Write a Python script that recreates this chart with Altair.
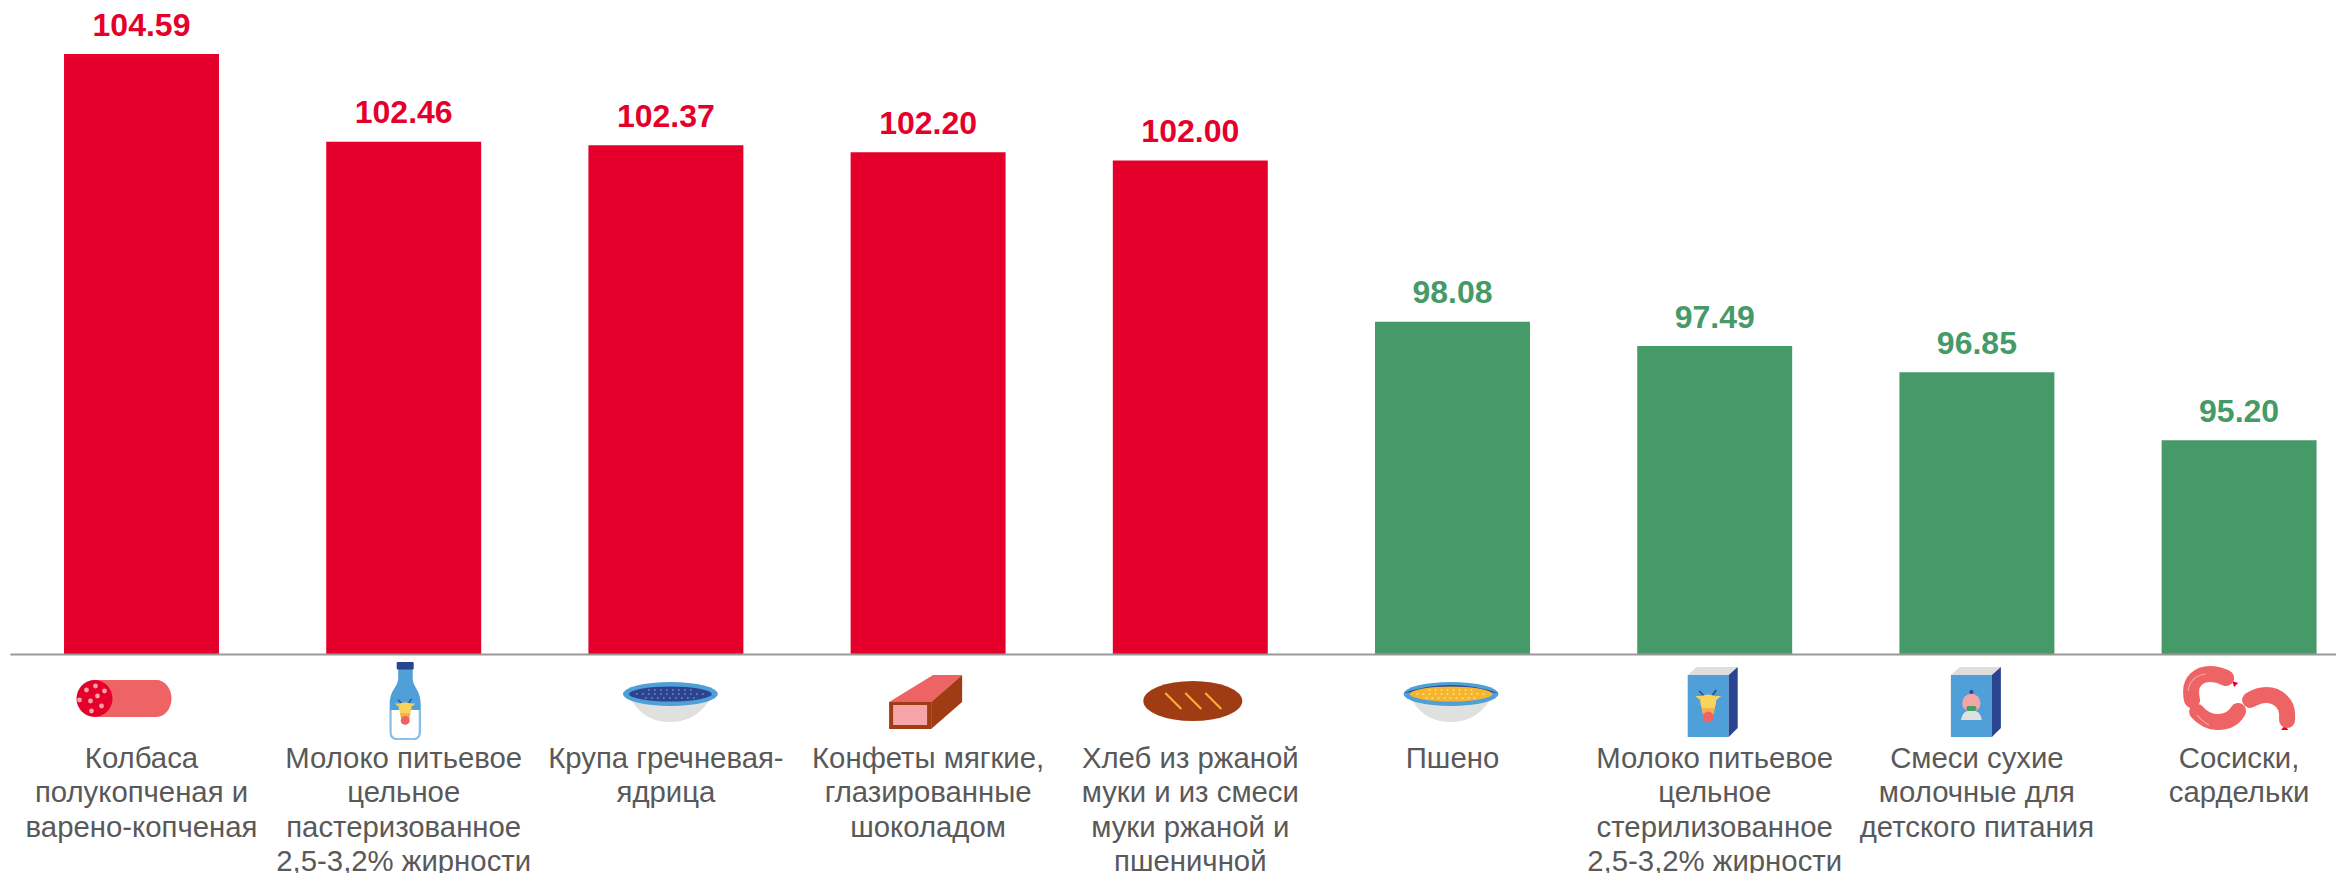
import base64
import altair as alt
import pandas as pd

categories = [
    "Колбаса|полукопченая и|варено-копченая",
    "Молоко питьевое|цельное|пастеризованное|2,5-3,2% жирности",
    "Крупа гречневая-|ядрица",
    "Конфеты мягкие,|глазированные|шоколадом",
    "Хлеб из ржаной|муки и из смеси|муки ржаной и|пшеничной",
    "Пшено",
    "Молоко питьевое|цельное|стерилизованное|2,5-3,2% жирности",
    "Смеси сухие|молочные для|детского питания",
    "Сосиски,|сардельки",
]
values = [104.59, 102.46, 102.37, 102.20, 102.00, 98.08, 97.49, 96.85, 95.20]
groups = ["up"] * 5 + ["down"] * 4

RED = "#E4002B"
GREEN = "#469A68"
PINK = "#EE6363"
BLUE = "#4F9FD9"
NAVY = "#2A4490"
BROWN = "#A03C14"
YEL = "#F5B52E"
GRAY = "#E0E0DE"

GOAT = (f'<path d="M-3,-12 L-9,-18 M3,-12 L8,-19" stroke="{NAVY}" stroke-width="1.6" fill="none"/>'
        f'<path d="M-7,-13 H-13 L-8,-9 Z M7,-13 H13 L8,-9 Z" fill="#F8D45C"/>'
        f'<path d="M-7,-13 Q0,-16 7,-13 Q9,-8 7,-3 L5,6 H-5 L-7,-3 Q-9,-8 -7,-13 Z" fill="#F8D45C"/>'
        f'<path d="M-6.5,-1 H6.5 L5,6 H-5 Z" fill="#F5B04A"/>'
        f'<ellipse cx="0" cy="8" rx="5.6" ry="5.4" fill="{PINK}"/>')
BABY = (f'<circle cx="0" cy="-17" r="2" fill="{NAVY}"/>'
        f'<path d="M0,-16 V-13" stroke="{NAVY}" stroke-width="1"/>'
        f'<circle cx="0" cy="-6" r="9.2" fill="#F4A6A6"/>'
        f'<path d="M-10.5,11 Q-9,3 -4,2 H4 Q9,3 10.5,11 Z" fill="{GRAY}"/>'
        f'<rect x="-5" y="-3" width="10" height="5" rx="2" fill="#3F9F5F"/>')


def bowl(fill, dots, rim_top):
    d = "".join(
        f'<circle cx="{x}" cy="{y}" r="1" fill="{dots}"/>'
        for y, xs in [(9, range(26, 72, 6)), (13, range(14, 84, 6)), (17, range(23, 75, 6))]
        for x in xs
    )
    return (f'<path d="M9,20 Q22,41 47,41 Q72,41 86,20 Z" fill="{GRAY}"/>'
            f'<ellipse cx="47.5" cy="13" rx="47.5" ry="12" fill="{BLUE}"/>'
            f'<path d="M0.5,12 Q47,-4 94.5,12 Q47,6 0.5,12 Z" fill="{rim_top}"/>'
            f'<ellipse cx="47.5" cy="13" rx="41.5" ry="7.5" fill="{fill}"/>{d}')


def box(inner):
    return (f'<rect x="0" y="8" width="41" height="62" fill="{BLUE}"/>'
            f'<path d="M0,8 L9,0 H50 L41,8 Z" fill="#DEDEDC"/>'
            f'<path d="M41,8 L50,0 V61 L41,70 Z" fill="{NAVY}"/>'
            f'<g transform="translate(20.5,42)">{inner}</g>')


salami = (f'<path d="M18,0 H80 A15,18.5 0 0 1 80,37 H18 Z" fill="{PINK}"/>'
          f'<ellipse cx="18" cy="18.5" rx="18" ry="18.5" fill="{RED}"/>'
          + "".join(f'<circle cx="{x}" cy="{y}" r="2.4" fill="#F4A6A6"/>'
                    for x, y in [(10, 10), (19, 6), (28, 11), (21, 16), (3, 20), (14, 21),
                                 (25, 26), (15, 31)]))
bottle = (f'<path d="M8.5,7 H23 V16 C23,25 31,28 31,42 V70 Q31,78 23,78 H8 Q0,78 0,70 V42 '
          f'C0,28 8.5,25 8.5,16 Z" fill="{BLUE}"/>'
          f'<path d="M0,48 H31 V70 Q31,78 23,78 H8 Q0,78 0,70 Z" fill="#8CC0E8"/>'
          f'<path d="M2,48 H29 V70 Q29,76 23,76 H8 Q2,76 2,70 Z" fill="white"/>'
          f'<rect x="7" y="0" width="17" height="7.5" rx="1" fill="{NAVY}"/>'
          f'<g transform="translate(15.5,52) scale(0.8)">{GOAT}</g>')
candy = (f'<path d="M0,27 L44,0 H73 L42,27 Z" fill="{PINK}"/>'
         f'<path d="M42,27 L73,0 V27 L42,54 Z" fill="#A03C14"/>'
         f'<rect x="0" y="27" width="42" height="27" fill="#A03C14"/>'
         f'<rect x="4" y="30" width="34" height="20" fill="#F5A5AA"/>')
bread = (f'<ellipse cx="49.5" cy="20" rx="49.5" ry="20" fill="{BROWN}"/>'
         + "".join(f'<line x1="{x}" y1="12" x2="{x + 16}" y2="28" stroke="{YEL}" stroke-width="2"/>'
                   for x in (22, 42, 62)))
sausages = (f'<path d="M50,14 L56,16 L52,20 Z" fill="{RED}"/>'
            f'<path d="M103,58 L106,63 L99,63 Z" fill="{RED}"/>'
            f'<g fill="none" stroke="{PINK}" stroke-width="16" stroke-linecap="round">'
            f'<path d="M44,11 C38,8 33,7 28,7 C16,7 9,15 9,24 C9,28 9,30 10,33"/>'
            f'<path d="M15,45 C20,51 28,55 36,55 C45,55 52,51 56,44"/>'
            f'<path d="M68,33 C73,30 78,28 84,28 C97,28 105,38 105,47 V53"/></g>'
            f'<g fill="none" stroke="#F5A8A8" stroke-width="1.2">'
            f'<path d="M6,24 C7,14 14,8 24,7"/><path d="M15,48 C19,53 23,56 27,58"/></g>')

# icon drawing, its offset from the bar centre and from the top of the icon strip
icons = [
    (salami, -65, 20), (bottle, -14, 2), (bowl(NAVY, "#6F7FB5", BLUE), -43, 21),
    (candy, -39, 15), (bread, -47, 21), (bowl(YEL, "#FBE08C", NAVY), -49, 21),
    (box(GOAT), -27, 7), (box(BABY), -26, 7), (sausages, -57, 7),
]


def to_uri(shape, dx, dy):
    svg = (f'<svg xmlns="http://www.w3.org/2000/svg" width="160" height="100" viewBox="0 0 160 100">'
           f'<g transform="translate({80 + dx},{dy})">{shape}</g></svg>')
    return "data:image/svg+xml;base64," + base64.b64encode(svg.encode()).decode()


df = pd.DataFrame({
    "category": categories,
    "value": values,
    "group": groups,
    "label": [f"{v:.2f}" for v in values],
    "icon": [to_uri(*i) for i in icons],
})

x = alt.X(
    "category:N",
    sort=None,
    title=None,
    scale=alt.Scale(range=[2.4, 2362.2], paddingInner=0.409, paddingOuter=0.2045),
    axis=alt.Axis(
        labelExpr="split(datum.label, '|')",
        labelAngle=0,
        labelFont="Liberation Sans",
        labelFontSize=29.33,
        labelColor="#595959",
        labelLineHeight=34.4,
        labelPadding=90.5,
        labelLimit=400,
        labelOverlap=False,
        labelFlush=False,
        labelBound=False,
        ticks=False,
        grid=False,
        domain=False,
    ),
)
y = alt.Y("value:Q", axis=None,
          scale=alt.Scale(domain=[90, 105.71], nice=False, zero=False, clamp=True))
color = alt.Color("group:N", legend=None,
                  scale=alt.Scale(domain=["up", "down"], range=[RED, GREEN]))

bars = alt.Chart(df).mark_bar().encode(x=x, y=y, color=color)
texts = alt.Chart(df).mark_text(
    font="Liberation Sans", fontSize=32, fontWeight="bold", baseline="alphabetic", dy=-18.5
).encode(x=x, y=y, color=color, text="label:N")
images = alt.Chart(df).mark_image(width=160, height=100).encode(
    x=x, y=alt.value(702), url="icon:N"
)
baseline = alt.Chart(pd.DataFrame({"a": [0]})).mark_rule(color="#999999", strokeWidth=2).encode(
    x=alt.value(2.4), x2=alt.value(2328), y=alt.value(646.5)
)

chart = alt.layer(bars, texts, images, baseline).properties(
    width=2328,
    height=646,
    padding={"left": 0, "top": 0, "right": 0, "bottom": 219},
    autosize=alt.AutoSizeParams(type="none"),
).configure_view(stroke=None)

chart.save("out.html", embed_options={"renderer": "svg", "actions": False})
